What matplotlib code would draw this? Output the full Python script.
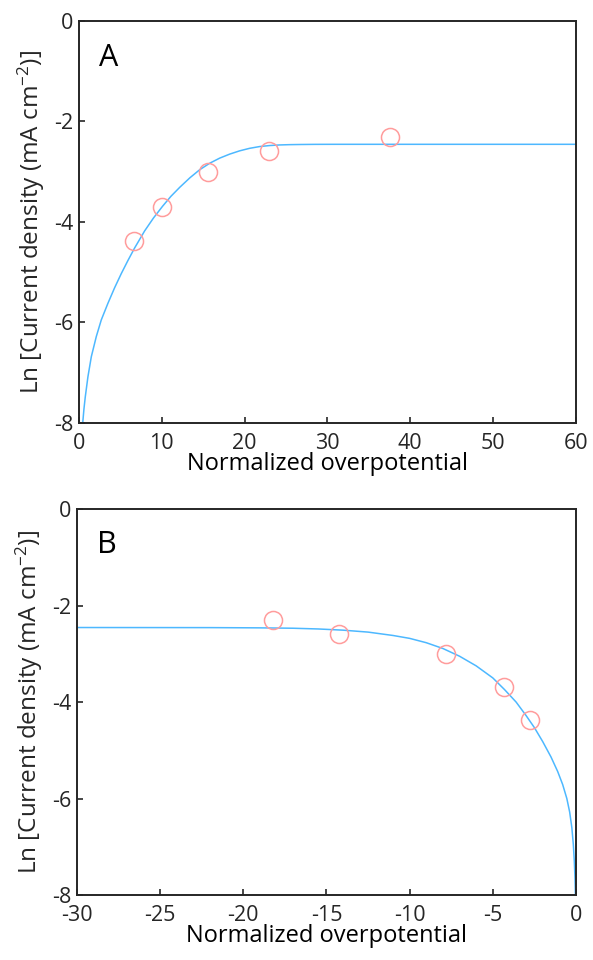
import matplotlib
matplotlib.use("Agg")
import matplotlib.pyplot as plt

plt.rcParams['font.family'] = ['Open Sans', 'DejaVu Sans']
plt.rcParams['mathtext.fontset'] = 'custom'
plt.rcParams['mathtext.rm'] = 'Open Sans'
plt.rcParams['mathtext.it'] = 'Open Sans'

# Panel A data (measured points)
a_x = [6.66, 10.08, 15.6, 22.9, 37.6]
a_y = [-4.38, -3.70, -3.00, -2.59, -2.30]
# Panel A fitted curve
a_curve_x = [0.45, 0.6, 0.76, 1.08, 1.49, 2.09, 2.69, 3.49, 4.30, 5.10, 5.90, 6.71,
             7.92, 9.0, 10.08, 11.1, 12.17, 13.4, 14.58, 15.8, 16.99, 18.2, 19.4,
             20.6, 21.8, 23.0, 24.2, 25.4, 26.6, 28.5, 31.0, 60.0]
a_curve_y = [-8.0, -7.72, -7.48, -7.08, -6.68, -6.28, -5.95, -5.62, -5.31, -5.03,
             -4.77, -4.52, -4.18, -3.92, -3.69, -3.49, -3.31, -3.12, -2.96, -2.83,
             -2.73, -2.65, -2.585, -2.535, -2.50, -2.48, -2.468, -2.462, -2.459,
             -2.456, -2.455, -2.455]

# Panel B data (measured points)
b_x = [-18.2, -14.25, -7.83, -4.32, -2.78]
b_y = [-2.30, -2.58, -3.00, -3.68, -4.37]
# Panel B fitted curve
b_curve_x = [-30.0, -22.0, -19.0, -17.0, -15.5, -14.0, -12.5, -11.0, -10.0, -9.0,
             -8.0, -7.0, -6.0, -5.0, -4.3, -3.6, -3.0, -2.5, -2.0, -1.5, -1.1,
             -0.8, -0.55, -0.38, -0.25, -0.16, -0.10, -0.06, -0.035]
b_curve_y = [-2.455, -2.457, -2.462, -2.47, -2.485, -2.51, -2.55, -2.62, -2.68,
             -2.77, -2.89, -3.05, -3.25, -3.50, -3.74, -4.00, -4.28, -4.53, -4.82,
             -5.14, -5.44, -5.71, -6.00, -6.28, -6.60, -6.95, -7.30, -7.65, -8.0]

x_label = "Normalized overpotential"
y_label = "Ln [Current density (mA cm$^{-2}$)]"
y_ticks = [0, -2, -4, -6, -8]
a_xticks = [0, 10, 20, 30, 40, 50, 60]
b_xticks = [-30, -25, -20, -15, -10, -5, 0]

line_color = '#4db8ff'
marker_color = '#ff9c9c'
text_color = '#262626'

fig = plt.figure(figsize=(5.93, 9.6), dpi=100)
axA = fig.add_axes([0.1332, 0.5594, 0.838, 0.4188])
axB = fig.add_axes([0.1298, 0.0677, 0.8415, 0.402])


def style(ax, xticks, xlim, label):
    ax.set_xlim(*xlim)
    ax.set_ylim(-8, 0)
    ax.set_xticks(xticks)
    ax.set_yticks(y_ticks)
    ax.set_yticklabels([str(t) for t in y_ticks])
    ax.set_xticklabels([str(t) for t in xticks])
    ax.tick_params(direction='in', length=4.5, width=1.2, labelsize=15.5,
                   colors=text_color, top=False, right=False)
    ax.tick_params(axis='x', pad=7)
    ax.tick_params(axis='y', pad=4)
    for s in ax.spines.values():
        s.set_linewidth(1.4)
        s.set_color(text_color)
    ax.set_xlabel(x_label, fontsize=17, color='black', labelpad=-1)
    ax.set_ylabel(y_label, fontsize=17.5, color=text_color, labelpad=5)
    ax.text(0.04, 0.945, label, transform=ax.transAxes, fontsize=22,
            va='top', ha='left', color='black')


axA.plot(a_curve_x, a_curve_y, color=line_color, lw=1.1, zorder=2,
         solid_joinstyle='round')
axA.plot(a_x, a_y, 'o', ms=13, mfc='none', mec=marker_color, mew=1.1, zorder=3)
style(axA, a_xticks, (0, 60), 'A')

axB.plot(b_curve_x, b_curve_y, color=line_color, lw=1.1, zorder=2,
         solid_joinstyle='round')
axB.plot(b_x, b_y, 'o', ms=13, mfc='none', mec=marker_color, mew=1.1, zorder=3)
style(axB, b_xticks, (-30, 0), 'B')

fig.savefig('out.png', dpi=100)
